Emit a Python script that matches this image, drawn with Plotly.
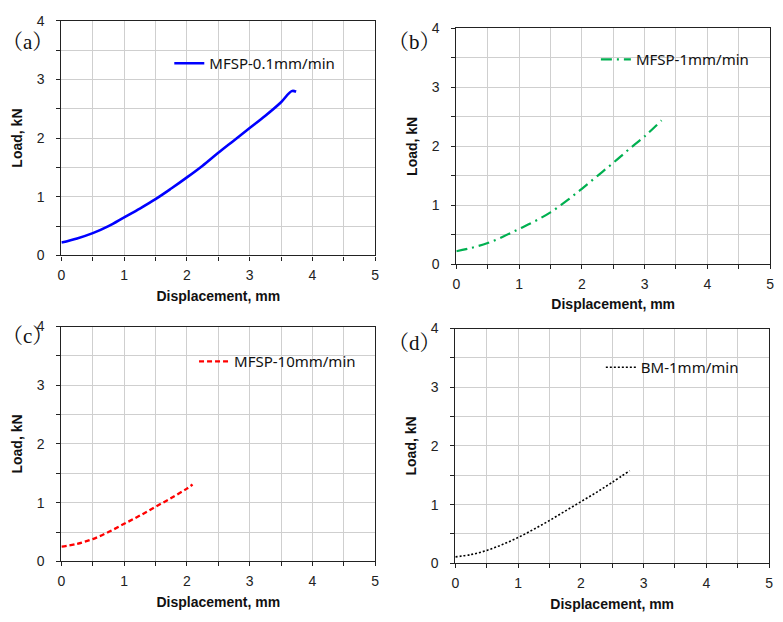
import plotly.graph_objects as go
from plotly.subplots import make_subplots

# values (displacement mm, load kN)
disp_a = [0, 0.25, 0.5, 0.75, 1.0, 1.25, 1.5, 1.75, 2.0, 2.25, 2.5, 2.75, 3.0, 3.25, 3.5, 3.67, 3.74]
load_a = [0.22, 0.29, 0.38, 0.50, 0.65, 0.80, 0.96, 1.14, 1.33, 1.53, 1.75, 1.96, 2.17, 2.38, 2.61, 2.80, 2.79]

disp_b = [0, 0.25, 0.5, 0.75, 1.0, 1.25, 1.5, 1.75, 2.0, 2.25, 2.5, 2.75, 3.0, 3.27]
load_b = [0.22, 0.28, 0.36, 0.47, 0.60, 0.73, 0.88, 1.07, 1.28, 1.50, 1.72, 1.95, 2.17, 2.44]

disp_c = [0, 0.25, 0.5, 0.75, 1.0, 1.25, 1.5, 1.75, 2.0, 2.09]
load_c = [0.25, 0.30, 0.38, 0.50, 0.64, 0.78, 0.93, 1.08, 1.24, 1.31]

disp_d = [0, 0.25, 0.5, 0.75, 1.0, 1.25, 1.5, 1.75, 2.0, 2.25, 2.5, 2.78]
load_d = [0.11, 0.15, 0.22, 0.32, 0.44, 0.58, 0.73, 0.89, 1.05, 1.21, 1.38, 1.58]

names = ["MFSP-0.1mm/min", "MFSP-1mm/min", "MFSP-10mm/min", "BM-1mm/min"]
panel_tags = ["（a）", "（b）", "（c）", "（d）"]

x_ticks = [0, 0.5, 1, 1.5, 2, 2.5, 3, 3.5, 4, 4.5, 5]
x_text = ["0", "", "1", "", "2", "", "3", "", "4", "", "5"]
y_ticks = [0, 0.5, 1, 1.5, 2, 2.5, 3, 3.5, 4]
y_text = ["0", "", "1", "", "2", "", "3", "", "4"]

W, H = 783, 622

series = [
    (disp_a, load_a, dict(color="#0000ff", width=2.6)),
    (disp_b, load_b, dict(color="#00b050", width=2.2, dash="11px,5px,2px,5px")),
    (disp_c, load_c, dict(color="#ff0000", width=2.3, dash="5px,3px")),
    (disp_d, load_d, dict(color="#000000", width=1.6, dash="2px,2px")),
]

# pixel boxes of each plot area: left, right, top, bottom
boxes = [(58, 375, 13, 254), (457, 774, 21, 263), (58, 375, 327, 568), (456, 773, 329, 570)]
# legend text start (px) and vertical centre (px)
leg_pos = [(207, 57), (638, 53), (232, 363), (643, 369)]
tag_pos = [(24, 35), (415, 35), (24, 337), (415, 344)]

font_ax = "Liberation Sans, Arial"

fig = make_subplots(rows=2, cols=2)

for i, (xs, ys, line) in enumerate(series):
    r, c = i // 2 + 1, i % 2 + 1
    lg = "legend" if i == 0 else f"legend{i + 1}"
    fig.add_trace(go.Scatter(x=xs, y=ys, mode="lines", name=names[i], line=line,
                             line_shape="spline", legend=lg), row=r, col=c)

    left, right, top, bottom = boxes[i]
    ax_common = dict(showline=True, linecolor="#222222", linewidth=1.2, mirror=True,
                     showgrid=True, gridcolor="#cfcfcf", gridwidth=1,
                     ticks="outside", ticklen=4, tickcolor="#222222",
                     tickfont=dict(family=font_ax, size=14, color="#222222"),
                     zeroline=False)
    fig.update_xaxes(row=r, col=c, range=[0, 5], tickvals=x_ticks, ticktext=x_text,
                     domain=[left / W, right / W], ticklabelstandoff=3,
                     title=dict(text="Displacement, mm", standoff=8,
                                font=dict(family=font_ax, size=14, color="#111111", weight="bold")),
                     **ax_common)
    fig.update_yaxes(row=r, col=c, range=[0, 4], tickvals=y_ticks, ticktext=y_text,
                     domain=[1 - bottom / H, 1 - top / H], ticklabelstandoff=9,
                     title=dict(text="Load, kN", standoff=10,
                                font=dict(family=font_ax, size=14, color="#111111", weight="bold")),
                     **ax_common)

    lx, ly = leg_pos[i]
    fig.update_layout({lg: dict(x=(lx - 40) / W, y=1 - ly / H, xanchor="left", yanchor="middle",
                                bgcolor="rgba(0,0,0,0)", borderwidth=0,
                                font=dict(family="Noto Sans, Open Sans", size=15, color="#111111"))})

    tx, ty = tag_pos[i]
    fig.add_annotation(text=panel_tags[i], xref="paper", yref="paper", x=tx / W, y=1 - ty / H,
                       xanchor="center", yanchor="middle", showarrow=False,
                       font=dict(family="Liberation Serif, Noto Serif CJK SC, serif", size=21, color="#111111"))

fig.update_layout(width=W, height=H, margin=dict(l=0, r=0, t=0, b=0),
                  paper_bgcolor="white", plot_bgcolor="white", showlegend=True)

# page body margin/scrollbars would push the fixed-size figure off the window
fig.write_html("out.html", config={"displayModeBar": False},
               post_script="document.body.style.margin='0';document.body.style.overflow='hidden';")
